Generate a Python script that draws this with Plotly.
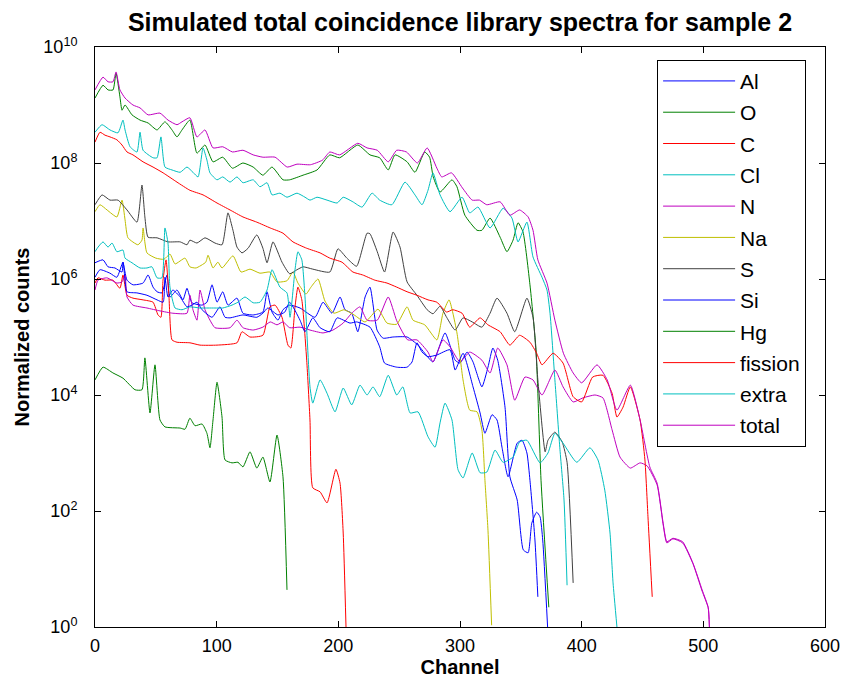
import numpy as np
import plotly.graph_objects as go

# ---- data (channel, log10 of normalized counts) ----
AL_CH = [0, 6.6, 10.7, 16.4, 22.2, 23, 26.3, 31.2, 39.5, 43.6, 47.7, 51, 55, 59.2, 61.6, 67.4, 72.3, 75.6, 79.7, 88, 92, 96.2, 100.3, 105, 109.3, 116.7, 121.6, 130, 138, 141.4, 145.5, 150.4, 154.5, 160, 168.5, 180.8, 187.4, 194.8, 201.4, 205.5, 211, 216, 222, 226, 231.8, 236.7, 245, 256.5, 265.5, 271, 277.8, 287.7, 296, 300, 305.8, 310.7, 318, 323, 327, 331, 337, 341, 347, 352, 356, 359, 363, 365.8, 368, 372]
AL_LOG = [6.28, 6.33, 6.21, 6.19, 6.12, 6.29, 5.98, 5.90, 5.93, 6.07, 5.86, 5.78, 5.76, 6.07, 5.69, 5.81, 5.64, 5.84, 5.59, 5.55, 5.60, 5.90, 5.60, 5.78, 5.55, 5.67, 5.41, 5.38, 5.43, 5.78, 5.43, 5.29, 5.47, 5.55, 5.50, 5.34, 5.60, 5.41, 5.69, 5.47, 5.41, 5.09, 5.69, 5.86, 5.12, 4.98, 5.00, 5.00, 4.86, 4.72, 4.57, 5.07, 4.60, 4.55, 4.74, 4.57, 4.14, 4.48, 4.81, 4.60, 3.79, 2.59, 2.19, 1.33, 1.28, 1.79, 1.98, 1.90, 1.50, 0.0]

O_CH = [0, 6.6, 10.7, 14.8, 17.3, 20.5, 22.2, 24.7, 30.4, 37, 43.6, 51, 57.5, 63.3, 67.4, 71.5, 78, 83.8, 90.4, 97, 105, 113, 121.6, 130, 138, 145.5, 154.5, 160, 171, 182.5, 193, 201, 216, 226, 234, 241, 246.6, 256.5, 263, 271, 275, 278, 283.6, 293.4, 297.5, 304, 314, 318, 324.7, 333, 338.6, 343.6, 347.7, 351.8, 357.5, 362.5, 366.6, 373]
O_LOG = [9.12, 9.34, 9.26, 9.26, 9.55, 9.14, 8.91, 9.00, 8.83, 8.74, 8.69, 8.57, 8.71, 8.57, 8.45, 8.57, 8.74, 8.17, 8.31, 8.02, 8.10, 7.91, 8.00, 7.93, 7.79, 7.93, 7.71, 7.71, 7.79, 7.88, 8.14, 8.09, 8.31, 8.14, 8.09, 7.88, 8.14, 8.02, 7.84, 8.19, 8.10, 7.76, 7.50, 7.71, 7.59, 7.10, 6.84, 6.84, 7.05, 6.72, 6.47, 6.67, 6.97, 6.81, 5.90, 4.78, 2.53, 0.34]

C_CH = [0, 2.5, 8.2, 14.8, 20.5, 23, 26.3, 31.2, 39.5, 47.7, 51.8, 54.2, 55.9, 58.4, 60.8, 63.3, 67.4, 78, 86.3, 100.3, 116.7, 120.8, 127.4, 138, 143.8, 148, 153.7, 158.6, 161, 164.4, 166.8, 170, 174, 176.7, 179, 185, 190.7, 198, 201.4, 204, 206.3]
C_LOG = [5.93, 6.02, 5.98, 5.98, 5.84, 6.07, 5.72, 5.67, 5.64, 5.60, 5.38, 5.34, 5.98, 6.33, 5.69, 4.95, 4.91, 4.90, 4.86, 4.86, 4.90, 5.09, 5.00, 5.03, 5.52, 5.55, 5.34, 4.86, 4.81, 5.52, 5.86, 5.64, 4.60, 3.57, 2.40, 2.33, 2.14, 2.72, 2.48, 1.62, 0.0]

CL_CH = [0, 5.8, 12.3, 18.9, 23, 24.7, 28.8, 34.5, 37, 39.5, 47.7, 51, 54.2, 57.5, 63.3, 70, 75.6, 80.5, 84.7, 88.8, 92, 94.5, 100.3, 105, 111, 116.7, 121.6, 130, 135.6, 141.4, 145.5, 152, 157.8, 166, 172.6, 176.7, 182.5, 190.7, 199, 204, 212, 219.5, 227.7, 234, 244, 254.8, 263, 268.8, 273.7, 277.8, 283.6, 291.8, 301.7, 308, 314.8, 324.7, 335.4, 342.7, 347.7, 355, 360, 367.4, 371.5, 374, 378, 382, 385.5, 388]
CL_LOG = [8.53, 8.66, 8.57, 8.52, 8.74, 8.57, 8.28, 8.19, 8.53, 8.22, 8.09, 8.09, 8.45, 7.93, 7.88, 7.84, 7.93, 7.84, 7.76, 8.26, 8.05, 7.83, 7.71, 7.76, 7.67, 7.76, 7.66, 7.71, 7.59, 7.66, 7.45, 7.48, 7.41, 7.48, 7.41, 7.36, 7.41, 7.36, 7.31, 7.41, 7.33, 7.24, 7.48, 7.36, 7.28, 7.67, 7.45, 7.28, 7.53, 7.83, 7.45, 7.16, 7.41, 7.14, 7.24, 6.88, 7.22, 7.05, 6.64, 6.98, 6.38, 6.03, 5.81, 5.41, 4.26, 3.10, 2.19, 0.72]

N_CH = [0, 2.5, 9.9, 18, 22.2, 24.7, 26.3, 31.2, 42.7, 53.4, 64, 75.6, 78, 80.5, 83.8, 86.3, 90.4, 94.5, 98.6, 111, 116.7, 121.6, 130, 138, 144, 149.6, 154.5, 160, 168.5, 176.7, 187.4, 195.6, 204, 211, 217.8, 223.6, 232, 241, 248, 257, 264.6, 273.7, 277.8, 286, 291.8, 300, 308, 318, 324.7, 331, 338.6, 345, 353.4, 360, 367.4, 378, 384.7, 393, 401, 411, 417.5, 425, 431.5, 440, 448, 453.7, 462, 467, 470, 475, 483, 491.5, 499, 504, 505]
N_LOG = [5.81, 5.98, 6.02, 5.93, 5.95, 6.07, 5.69, 5.55, 5.50, 5.45, 5.41, 5.41, 5.72, 5.47, 5.29, 5.81, 5.47, 5.29, 5.16, 5.16, 5.29, 5.16, 5.12, 5.17, 5.26, 5.21, 5.26, 5.16, 5.17, 5.12, 5.07, 5.12, 5.24, 5.41, 5.52, 5.29, 5.29, 5.69, 5.28, 4.95, 4.95, 4.74, 4.57, 4.95, 4.83, 4.57, 4.74, 4.60, 4.38, 4.81, 4.52, 3.91, 4.31, 4.26, 4.00, 4.43, 4.14, 3.88, 3.95, 4.00, 3.95, 3.40, 2.93, 2.74, 2.83, 2.78, 2.45, 1.76, 1.45, 1.52, 1.45, 1.09, 0.62, 0.33, 0.0]

NA_CH = [0, 4.1, 9.9, 18, 22.2, 24.7, 27.1, 35.3, 38.6, 39.5, 42.7, 50, 56.7, 61.6, 65.8, 74, 78, 83, 91, 92.9, 97, 101, 104.4, 113.4, 120, 127.4, 135.6, 143.8, 149.6, 157.8, 162.7, 166.8, 173.4, 177.5, 183.3, 189, 196.4, 204.6, 213, 222, 232.6, 240, 248, 256.5, 261.4, 271, 281, 286, 291, 297.5, 302.5, 308, 314, 318, 320.5, 323, 326]
NA_LOG = [7.16, 7.28, 7.19, 7.07, 7.36, 7.02, 6.71, 6.59, 6.67, 6.88, 6.45, 6.36, 6.34, 6.43, 6.26, 6.36, 6.21, 6.19, 6.29, 6.41, 6.19, 6.29, 6.19, 6.40, 6.12, 6.17, 6.10, 6.12, 5.95, 5.97, 6.12, 5.93, 5.74, 5.86, 6.00, 5.62, 5.41, 5.47, 5.38, 5.26, 5.48, 5.24, 5.22, 5.52, 5.29, 5.21, 4.95, 5.41, 5.64, 5.07, 4.26, 3.74, 3.71, 3.40, 2.53, 1.67, 0.03]

S_CH = [0, 5.8, 12.3, 18.9, 26.3, 34.5, 38.6, 41, 43.6, 51, 60, 70, 75.6, 78, 83.8, 90.4, 98.6, 104.4, 109.3, 113.4, 116.7, 120.8, 125.8, 133, 138, 141.4, 146.3, 153.7, 160, 166, 171, 179, 193, 199.7, 207, 215, 223.6, 226, 232, 238, 245, 250.7, 256.5, 264.6, 273, 277.8, 283.6, 289, 296, 302.5, 310, 318, 324.7, 330.4, 338.6, 345, 355, 360, 364, 370, 372.3, 378, 384, 388, 393]
S_LOG = [7.28, 7.45, 7.36, 7.36, 7.19, 6.98, 7.62, 7.07, 6.72, 6.71, 6.64, 6.64, 6.59, 6.67, 6.62, 6.71, 6.62, 6.59, 7.14, 6.84, 6.55, 6.45, 6.53, 6.76, 6.53, 6.28, 6.64, 6.29, 6.09, 6.16, 6.21, 6.17, 6.12, 6.52, 6.36, 6.22, 6.79, 6.78, 6.47, 6.12, 6.81, 6.55, 5.95, 5.72, 5.47, 5.40, 5.53, 5.34, 5.12, 5.33, 5.26, 5.17, 5.41, 5.67, 5.41, 5.09, 5.67, 5.34, 4.26, 3.02, 3.22, 3.36, 3.19, 2.84, 0.76]

SI_CH = [0, 4.1, 12.3, 18, 23, 26.3, 34.5, 42.7, 51, 56, 57.5, 60, 64, 70, 75.6, 79.7, 83.8, 88, 96.2, 102.7, 106.9, 111, 121.6, 133, 138, 142, 150.4, 156, 160, 168.5, 172.6, 179, 185, 193, 199, 209.6, 215, 226, 234, 238, 248, 256.5, 260.6, 264.6, 268.8, 273.7, 281, 291.8, 296, 302.5, 310.7, 316.5, 320.5, 326.3, 330.4, 334.5, 339.5, 347, 351, 355, 357.5, 361.6, 364]
SI_LOG = [6.03, 6.16, 6.10, 6.03, 6.29, 5.78, 5.76, 5.72, 5.64, 5.60, 6.03, 5.69, 5.81, 5.69, 5.52, 5.55, 5.60, 5.47, 5.34, 5.52, 5.34, 5.33, 5.38, 5.34, 5.41, 5.50, 5.38, 5.43, 5.60, 5.29, 5.09, 5.33, 5.16, 5.09, 5.33, 5.24, 5.26, 5.17, 4.83, 4.55, 4.48, 4.48, 4.57, 4.90, 4.74, 4.66, 4.69, 4.78, 4.43, 4.72, 4.14, 3.69, 3.34, 3.66, 3.57, 3.10, 2.59, 3.17, 3.22, 3.00, 2.53, 1.50, 0.52]

HG_CH = [0, 6.6, 14.8, 23, 32.9, 38.6, 41, 45.2, 49.3, 53.4, 57.5, 70, 74, 78, 82.2, 88, 92, 94.5, 97, 100.3, 104.4, 106.9, 112.6, 117.5, 121.6, 127.4, 133, 138, 143.8, 149.6, 154.5, 157.8]
HG_LOG = [4.26, 4.48, 4.38, 4.29, 4.09, 4.09, 4.64, 3.69, 4.52, 3.57, 3.45, 3.43, 3.41, 3.60, 3.47, 3.50, 3.34, 3.09, 3.57, 4.22, 3.62, 2.88, 2.83, 2.84, 2.76, 3.02, 2.74, 2.93, 2.50, 3.31, 2.59, 0.64]

FISSION_CH = [0, 4.1, 8.2, 12.3, 18, 22.2, 26.3, 31.2, 39.5, 47.7, 56, 67.4, 78, 88.8, 100.3, 111, 121.6, 133, 144, 154.5, 162.7, 174, 185, 193, 203, 212, 220, 230, 240, 248, 256.5, 264.6, 273.7, 281, 289, 294, 301.7, 308, 316.5, 323, 333, 341, 349, 357.5, 363, 367.4, 376.5, 384.7, 393, 400, 409, 417.5, 425, 429, 434, 440, 448, 452, 454.5, 458]
FISSION_LOG = [8.36, 8.53, 8.48, 8.45, 8.40, 8.31, 8.19, 8.14, 8.02, 7.93, 7.83, 7.67, 7.53, 7.45, 7.31, 7.19, 7.07, 6.98, 6.88, 6.79, 6.64, 6.53, 6.45, 6.36, 6.29, 6.12, 6.07, 5.98, 5.93, 5.86, 5.78, 5.72, 5.64, 5.60, 5.43, 5.47, 5.41, 5.17, 5.33, 5.21, 5.09, 4.86, 5.03, 4.91, 4.72, 4.52, 4.72, 4.55, 3.97, 3.88, 4.31, 4.34, 4.03, 3.62, 3.79, 4.14, 3.57, 2.88, 1.90, 0.52]

EXTRA_CH = [0, 2.5, 6.6, 10.7, 14, 18, 23, 24.7, 30.4, 37, 42.7, 46.8, 51, 55, 57.5, 60, 61.6, 65.8, 71.5, 78, 86.3, 92.9, 98.6, 105, 112.6, 117.5, 123.3, 130, 135.6, 141.4, 145.5, 152, 157.8, 160.3, 164.4, 166.8, 170, 172.6, 176.7, 179, 185, 190.7, 197.3, 204, 211, 217.8, 223.6, 228.5, 234, 241, 248, 253, 259, 265.5, 273.7, 279.5, 283.6, 287.7, 293.4, 298.4, 302.5, 310, 316.5, 322, 328.8, 335.4, 343.6, 349, 355, 365.8, 372.3, 378, 384.7, 396, 406.8, 413.4, 419, 423.3, 425.8, 429]
EXTRA_LOG = [6.47, 6.55, 6.64, 6.55, 6.62, 6.47, 6.50, 6.36, 6.28, 6.19, 6.19, 6.21, 6.02, 6.02, 6.88, 6.62, 5.86, 5.50, 5.47, 5.52, 5.50, 5.50, 5.50, 5.50, 5.55, 5.60, 5.69, 5.59, 5.60, 5.81, 6.16, 5.86, 5.76, 5.34, 6.16, 6.47, 6.33, 5.69, 4.14, 3.86, 4.26, 4.03, 3.71, 4.12, 3.83, 4.17, 4.00, 4.14, 3.97, 4.34, 4.00, 4.14, 3.69, 3.71, 3.28, 3.10, 3.52, 3.86, 3.57, 2.71, 2.57, 3.00, 2.66, 2.67, 3.05, 2.84, 2.93, 3.19, 3.22, 2.83, 3.00, 3.34, 3.17, 2.84, 3.09, 2.88, 2.36, 1.62, 0.76, 0.0]

TOTAL_CH = [0, 6.6, 10.7, 14.8, 17.3, 20.5, 24.7, 31.2, 37, 43.6, 53.4, 60, 67.4, 71.5, 78, 83.8, 90.4, 97, 105, 113, 121.6, 130, 138, 148, 158, 166, 177, 187, 193, 201, 216, 223.6, 232, 241, 248, 256, 265, 273, 281, 285, 293, 302, 310, 316, 322, 333, 341, 349, 356, 360, 364, 371.5, 378, 385, 393, 400, 412.6, 421, 429, 440, 448, 456, 462, 467, 470, 475, 483, 491.5, 499, 504, 505]
TOTAL_LOG = [9.26, 9.48, 9.40, 9.40, 9.57, 9.26, 9.12, 9.00, 8.95, 8.83, 8.86, 8.74, 8.66, 8.71, 8.78, 8.45, 8.57, 8.26, 8.28, 8.19, 8.22, 8.14, 8.10, 8.10, 7.93, 7.98, 7.97, 8.05, 8.19, 8.14, 8.34, 8.26, 8.22, 8.02, 8.22, 8.19, 8.00, 8.26, 7.91, 7.76, 7.83, 7.57, 7.36, 7.36, 7.28, 7.33, 7.10, 7.19, 7.07, 6.84, 6.33, 5.93, 5.29, 4.72, 4.38, 4.21, 4.52, 4.26, 3.74, 4.17, 3.57, 2.76, 2.48, 1.79, 1.47, 1.53, 1.47, 1.10, 0.64, 0.34, 0.0]

SERIES_NAMES = ["Al", "O", "C", "Cl", "N", "Na", "S", "Si", "Hg", "fission", "extra", "total"]
SERIES_CH = [AL_CH, O_CH, C_CH, CL_CH, N_CH, NA_CH, S_CH, SI_CH, HG_CH, FISSION_CH, EXTRA_CH, TOTAL_CH]
SERIES_LOG = [AL_LOG, O_LOG, C_LOG, CL_LOG, N_LOG, NA_LOG, S_LOG, SI_LOG, HG_LOG, FISSION_LOG, EXTRA_LOG, TOTAL_LOG]
SERIES_COLORS = ["#0000ff", "#008000", "#ff0000", "#00bfbf", "#bf00bf", "#bfbf00",
                 "#404040", "#0000ff", "#008000", "#ff0000", "#00bfbf", "#bf00bf"]

X_TICKS = [0, 100, 200, 300, 400, 500, 600]
Y_TICK_EXPONENTS = [0, 2, 4, 6, 8, 10]

FONT = "Liberation Sans, Arial, Helvetica, sans-serif"

# the page body adds an 8px offset; the figure is sized so the plot box lands at
# x 95..825, y 47..627 in the 851x689 window
FIG_W, FIG_H = 843, 681

fig = go.Figure()
for name, ch, lg, col in zip(SERIES_NAMES, SERIES_CH, SERIES_LOG, SERIES_COLORS):
    fig.add_trace(go.Scatter(
        x=ch, y=np.power(10.0, np.array(lg)), mode="lines", name=name,
        legendgroup=name, line=dict(color=col, width=1, shape="spline", smoothing=0.5)))

fig.update_layout(
    width=FIG_W, height=FIG_H,
    margin=dict(l=87, r=26, t=39, b=62, autoexpand=False),
    paper_bgcolor="white", plot_bgcolor="white",
    font=dict(family=FONT, size=18, color="black"),
    title=dict(text="<b>Simulated total coincidence library spectra for sample 2</b>",
               x=0.5, xref="paper", xanchor="center",
               y=1 - 14 / FIG_H, yref="container", yanchor="middle",
               font=dict(size=25, family=FONT)),
    showlegend=True,
    legend=dict(x=0.770, y=0.978, xanchor="left", yanchor="top",
                bordercolor="black", borderwidth=1, bgcolor="white",
                font=dict(size=21, family=FONT), tracegroupgap=1,
                traceorder="grouped", itemwidth=72),
)
fig.update_xaxes(
    range=[0, 600], tickvals=X_TICKS, ticks="inside", ticklen=6, tickcolor="black",
    showline=True, linecolor="black", linewidth=1, mirror="ticks", automargin=False,
    ticklabelstandoff=2,
    showgrid=False, zeroline=False, tickfont=dict(size=18),
    title=dict(text="<b>Channel</b>", font=dict(size=20), standoff=4))
fig.update_yaxes(
    type="log", range=[0, 10],
    tickvals=[10.0 ** e for e in Y_TICK_EXPONENTS],
    ticktext=["10<sup>%d</sup>" % e for e in Y_TICK_EXPONENTS],
    ticks="inside", ticklen=6, tickcolor="black", ticklabelstandoff=13,
    showline=True, linecolor="black", linewidth=1, mirror="ticks", automargin=False,
    showgrid=False, zeroline=False, tickfont=dict(size=18),
    title=dict(text="<b>Normalized counts</b>", font=dict(size=20), standoff=8))

fig.write_html("out.html")
